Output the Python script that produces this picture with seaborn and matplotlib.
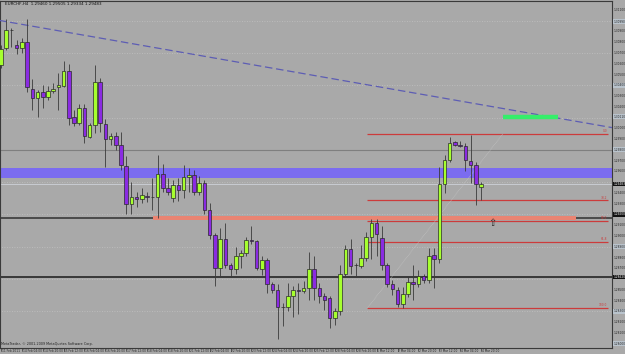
#!/usr/bin/env python3
"""
EURCHF H4 candlestick chart, MetaTrader style, with a few drawn objects
(trend line, bands, fibo levels).
"""

import numpy as np
import pandas as pd
import matplotlib
matplotlib.use("Agg")
import matplotlib.pyplot as plt
import seaborn as sns

# ---- data -------------------------------------------------------------------
opens = [1.3059, 1.3075, 1.3091, 1.3077, 1.3075, 1.3080, 1.3037, 1.3028, 1.3034, 1.3029,
         1.3035, 1.3038, 1.3039, 1.3053, 1.3011, 1.3005, 1.3019, 1.2992, 1.3003, 1.3043,
         1.3004, 1.2990, 1.2993, 1.2985, 1.2965, 1.2930, 1.2936, 1.2934, 1.2937, 1.2936,
         1.2936, 1.2958, 1.2945, 1.2935, 1.2947, 1.2943, 1.2955, 1.2957, 1.2941, 1.2949,
         1.2924, 1.2901, 1.2870, 1.2897, 1.2873, 1.2869, 1.2881, 1.2884, 1.2896, 1.2895,
         1.2869, 1.2878, 1.2855, 1.2850, 1.2834, 1.2834, 1.2844, 1.2850, 1.2849, 1.2852,
         1.2869, 1.2852, 1.2844, 1.2842, 1.2824, 1.2830, 1.2865, 1.2888, 1.2873, 1.2872,
         1.2880, 1.2899, 1.2912, 1.2898, 1.2873, 1.2855, 1.2850, 1.2837, 1.2846, 1.2857,
         1.2855, 1.2863, 1.2859, 1.2882, 1.2879, 1.2948, 1.2971, 1.2987, 1.2985, 1.2984,
         1.2970, 1.2966, 1.29460]
highs = [1.3077, 1.3102, 1.3093, 1.3082, 1.3084, 1.3102, 1.3046, 1.3036, 1.3040, 1.3039,
         1.3042, 1.3051, 1.3063, 1.3060, 1.3017, 1.3023, 1.3023, 1.3005, 1.3059, 1.3047,
         1.3009, 1.2996, 1.2997, 1.2997, 1.2974, 1.2950, 1.2941, 1.2945, 1.2941, 1.2954,
         1.2975, 1.2967, 1.2954, 1.2952, 1.2954, 1.2966, 1.2963, 1.2961, 1.2956, 1.2952,
         1.2931, 1.2903, 1.2907, 1.2912, 1.2875, 1.2890, 1.2887, 1.2899, 1.2909, 1.2896,
         1.2881, 1.2880, 1.2857, 1.2855, 1.2838, 1.2856, 1.2854, 1.2856, 1.2858, 1.2885,
         1.2881, 1.2856, 1.2847, 1.2844, 1.2833, 1.2873, 1.2892, 1.2897, 1.2875, 1.2892,
         1.2904, 1.2916, 1.2916, 1.2909, 1.2875, 1.2859, 1.2853, 1.2853, 1.2862, 1.2873,
         1.2868, 1.2865, 1.2889, 1.2889, 1.2964, 1.2975, 1.2992, 1.2988, 1.2988, 1.2986,
         1.2994, 1.2969, 1.29505]
lows = [1.3056, 1.3073, 1.3076, 1.3069, 1.3070, 1.3034, 1.3017, 1.3011, 1.3019, 1.3026,
        1.3033, 1.3017, 1.3038, 1.3003, 1.3002, 1.3003, 1.2986, 1.2991, 1.2996, 1.2997,
        1.2964, 1.2985, 1.2980, 1.2961, 1.2920, 1.2920, 1.2927, 1.2931, 1.2932, 1.2924,
        1.2917, 1.2941, 1.2938, 1.2932, 1.2933, 1.2935, 1.2941, 1.2938, 1.2938, 1.2920,
        1.2897, 1.2854, 1.2862, 1.2870, 1.2862, 1.2865, 1.2870, 1.2881, 1.2893, 1.2868,
        1.2864, 1.2847, 1.2847, 1.2804, 1.2816, 1.2830, 1.2825, 1.2828, 1.2847, 1.2841,
        1.2841, 1.2838, 1.2831, 1.2815, 1.2817, 1.2827, 1.2862, 1.2865, 1.2862, 1.2870,
        1.2877, 1.2879, 1.2881, 1.2868, 1.2853, 1.2845, 1.2834, 1.2833, 1.2843, 1.2841,
        1.2853, 1.2856, 1.2856, 1.2852, 1.2875, 1.2940, 1.2969, 1.2984, 1.2983, 1.2960,
        1.2949, 1.2929, 1.29334]
closes = [1.3074, 1.3091, 1.3091, 1.3075, 1.3080, 1.3038, 1.3028, 1.3034, 1.3029, 1.3035,
          1.3037, 1.3040, 1.3053, 1.3010, 1.3005, 1.3019, 1.2993, 1.3003, 1.3043, 1.3005,
          1.2990, 1.2993, 1.2985, 1.2966, 1.2930, 1.2936, 1.2934, 1.2938, 1.2936, 1.2936,
          1.2958, 1.2945, 1.2941, 1.2947, 1.2943, 1.2955, 1.2957, 1.2941, 1.2949, 1.2924,
          1.2901, 1.2870, 1.2897, 1.2873, 1.2869, 1.2881, 1.2884, 1.2896, 1.2895, 1.2870,
          1.2878, 1.2855, 1.2850, 1.2834, 1.2834, 1.2844, 1.2850, 1.2849, 1.2852, 1.2869,
          1.2852, 1.2844, 1.2841, 1.2824, 1.2830, 1.2865, 1.2888, 1.2872, 1.2873, 1.2880,
          1.2899, 1.2912, 1.2902, 1.2873, 1.2855, 1.2851, 1.2837, 1.2846, 1.2857, 1.2855,
          1.2863, 1.2859, 1.2881, 1.2879, 1.2948, 1.2971, 1.2986, 1.2985, 1.2984, 1.2971,
          1.2966, 1.2948, 1.29483]

time_labels = ["11 Feb 2011", "14 Feb 04:00", "14 Feb 20:00", "15 Feb 12:00",
               "16 Feb 04:00", "16 Feb 20:00", "17 Feb 12:00", "18 Feb 04:00",
               "18 Feb 20:00", "21 Feb 12:00", "22 Feb 04:00", "22 Feb 20:00",
               "23 Feb 12:00", "24 Feb 04:00", "24 Feb 20:00", "25 Feb 12:00",
               "28 Feb 04:00", "28 Feb 20:00", "1 Mar 12:00", "2 Mar 04:00",
               "2 Mar 20:00", "3 Mar 12:00", "4 Mar 04:00", "4 Mar 20:00"]
BARS_PER_LABEL = 4

title_text = "EURCHF,H4  1.29460 1.29505 1.29334 1.29483"

# drawn objects (bar index, price)
trend_pts = [(0, 1.3100), (92, 1.3022)]
green_seg = [(96.2, 1.3011), (106.8, 1.3011)]
blue_band = (1.2954, 1.2963)
salmon_band = (29.1, 110.2, 1.2915, 1.2919)
gray_line = 1.2980
dark_line = 1.2917
black_line = 1.2862
fibo_hi, fibo_lo = 1.2995, 1.2833
fibo_levels = [0.0, 38.2, 50.0, 61.8, 100.0]
fibo_start = 70.2
fibo_diag = [(70.2, 1.2833), (96.2, 1.2995)]
arrow_pos = (94.1, 1.2912)
grid_levels = np.arange(1.2830, 1.3101, 0.0030)
axis_levels = np.arange(1.2800, 1.3111, 0.0010)
light_boxes = [1.3099, 1.3040, 1.3011, 1.2980, 1.2890, 1.2830, 1.2800]
dark_boxes = [1.29483, 1.2920, 1.2862]

# ---- styling ---------------------------------------------------------------
BG = "#a9a9a9"
BULL = "#a6ff2e"
BEAR = "#8a2be2"
EDGE = "#2b2b2b"
FS = 2.1

sns.set_theme(style="white", rc={"axes.facecolor": BG, "figure.facecolor": BG})
plt.rcParams["font.family"] = ["DejaVu Sans"]

df = pd.DataFrame({"o": opens, "h": highs, "l": lows, "c": closes})
df["i"] = np.arange(len(df))
df["bull"] = df["c"] >= df["o"]

fig = plt.figure(figsize=(6.25, 3.54), dpi=100)
ax = fig.add_axes([0, 6 / 354, 612 / 625, 347 / 354])
ax.set_xlim(-0.19, 117.1)
ax.set_ylim(1.2796, 1.31183)

# grid
ax.hlines(grid_levels, -1, 120, colors="#c2c2c2", linestyles=(0, (1, 2)), lw=0.6, zorder=1)

# bands / horizontal objects
ax.axhspan(*blue_band, color="#7b6cf0", lw=0, zorder=2)
ax.axhline(gray_line, color="#7f7f7f", lw=0.8, zorder=2)
ax.axhline(closes[-1], color="#c8ccd2", lw=0.7, zorder=2)
ax.axhline(dark_line, color="#4a4a4a", lw=1.4, zorder=2)
ax.axhline(black_line, color="#303030", lw=1.3, zorder=2)
x0, x1, y0, y1 = salmon_band
ax.fill_between([x0, x1], y0, y1, color="#ea8472", lw=0, zorder=3)

# trend line (ray)
(tx0, ty0), (tx1, ty1) = trend_pts
slope = (ty1 - ty0) / (tx1 - tx0)
ax.plot([tx0 - 1, 120], [ty0 - slope, ty0 + slope * (120 - tx0)],
        color="#5d5db4", lw=0.9, ls=(0, (6, 3)), zorder=3)

# fibo
rng = fibo_hi - fibo_lo
for lev in fibo_levels:
    p = fibo_hi - rng * lev / 100
    ax.hlines(p, fibo_start, 116.3, color="#cc3b3b", lw=0.9, zorder=3)
    ax.text(116.2, p + 0.00008, f"{lev:.1f}", color="#cc3b3b", fontsize=FS,
            ha="right", va="bottom", zorder=6)
ax.plot(*zip(*fibo_diag), color="#c4c4c4", lw=0.5, ls=(0, (1, 1)), zorder=3)

ax.plot(*zip(*green_seg), color="#35ee6a", lw=3.2, solid_capstyle="butt", zorder=4)
ax.text(*arrow_pos, "\u21e7", fontsize=7, ha="center", va="center",
        color="#2a2a2a", zorder=6)

# candles
ax.vlines(df["i"], df["l"], df["h"], color="#3a3a3a", lw=0.6, zorder=4)
body_lo = df[["o", "c"]].min(axis=1)
body_h = (df["c"] - df["o"]).abs()
ax.bar(df["i"], body_h, bottom=body_lo, width=0.68,
       color=np.where(df["bull"], BULL, BEAR), edgecolor=EDGE, lw=0.5, zorder=5)

# texts
ax.text(0.8, 1.31183 - 0.00012, title_text, fontsize=3.0, va="top", ha="left",
        color="#111111", zorder=7)
ax.text(0.0, 1.2796 + 0.00018, "MetaTrader, \u00a9 2001-2009 MetaQuotes Software Corp.",
        fontsize=2.4, va="bottom", ha="left", color="#222222", zorder=7)

# axes
ax.set_xticks([])
ax.set_yticks([])
for s in ax.spines.values():
    s.set_color("#3a3a3a")
    s.set_linewidth(0.8)

# right price scale
boxed = light_boxes + dark_boxes
for p in axis_levels:
    if min(abs(p - b) for b in boxed) < 0.0005:
        continue
    ax.text(117.45, p, f"{p:.5f}", fontsize=FS, va="center", ha="left",
            color="#222222", clip_on=False)
for p in light_boxes:
    ax.text(117.35, p, f"{p:.5f}", fontsize=FS, va="center", ha="left", color="#222222",
            clip_on=False, bbox=dict(boxstyle="square,pad=0.15", fc="#b9c3cc", ec="none"))
for p in dark_boxes:
    ax.text(117.35, p, f"{p:.5f}", fontsize=FS, va="center", ha="left", color="white",
            clip_on=False, bbox=dict(boxstyle="square,pad=0.15", fc="#111111", ec="none"))

# time scale
for k, lab in enumerate(time_labels):
    xi = k * BARS_PER_LABEL
    ax.plot([xi, xi], [1.2796, 1.2796 - 0.0003], color="#3a3a3a", lw=0.5, clip_on=False)
    ax.text(xi + 0.15, 1.2796 - 0.00012, lab, fontsize=FS, va="top", ha="left",
            color="#222222", clip_on=False)

fig.savefig("out.png", dpi=100, facecolor=BG)
plt.close(fig)
